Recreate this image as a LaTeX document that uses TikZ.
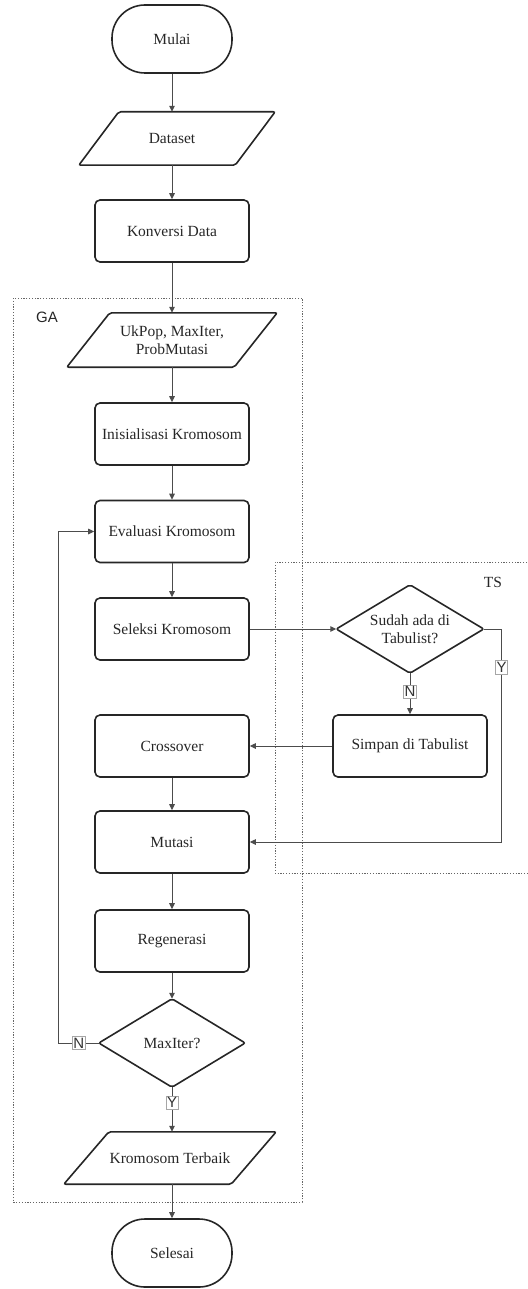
\documentclass[tikz,border=0pt]{standalone}
\usepackage{fontspec}
\setmainfont{Liberation Serif}
\newfontfamily\lsans{Liberation Sans}
\usetikzlibrary{arrows.meta}
\newcommand\pgram[3]{\draw[outl] ([xshift=#2+#3]#1.north west) -- ([xshift=#3]#1.north east) -- ([xshift=-#2+#3]#1.south east) -- ([xshift=#3]#1.south west) -- cycle;}
\newcommand\dmd[1]{\draw[outl] (#1.north) -- (#1.east) -- (#1.south) -- (#1.west) -- cycle;}
\begin{document}
\begin{tikzpicture}[x=1pt,y=-1pt,
 txt/.style={align=center, font=\fontsize{15.5}{18}\selectfont, text=black!85},
 box/.style={txt, draw=black!85, line width=1.6pt, rounded corners=5pt, minimum width=154pt, minimum height=62pt, inner sep=0pt},
 term/.style={box, minimum width=120pt, minimum height=68pt, rounded corners=33pt},
 shp/.style={txt, inner sep=0pt, draw=none},
 outl/.style={draw=black!85, line width=1.6pt, rounded corners=2pt},
 arr/.style={draw=black!70, line width=1pt, -{Triangle[length=6pt,width=5.5pt]}},
 lbl/.style={draw=black!35, fill=white, line width=0.6pt, inner xsep=1pt, inner ysep=1.5pt, font=\lsans\fontsize{15}{15}\selectfont, text=black!80},
 grp/.style={draw=black!60, line width=0.9pt, dash pattern=on 1.2pt off 1.6pt}
]
\useasboundingbox (0,0) rectangle (527,1289);
% group boxes
\draw[grp] (13,298) rectangle (302,1202);
\draw[grp] (527,562) -- (275,562) -- (275,873) -- (527,873);
\node[font=\lsans\fontsize{15}{15}\selectfont, text=black!85] (ga) at (47,317) {GA};
\node[txt] (ts) at (493,582) {TS};

% nodes
\node[term] (mulai) at (172,39) {Mulai};
\node[shp, minimum width=196pt, minimum height=53pt] (data) at (172,138.5) {Dataset};
\node[box] (konv) at (172,231) {Konversi Data};
\node[shp, minimum width=210pt, minimum height=54pt] (param) at (172,340) {UkPop, MaxIter,\\ProbMutasi};
\node[box] (init) at (172,434) {Inisialisasi Kromosom};
\node[box] (eval) at (172,531.5) {Evaluasi Kromosom};
\node[box] (sel) at (172,629) {Seleksi Kromosom};
\node[box] (cross) at (172,746) {Crossover};
\node[box] (mut) at (172,842) {Mutasi};
\node[box] (regen) at (172,941) {Regenerasi};
\node[shp, minimum width=146pt, minimum height=88pt] (maxit) at (172,1043) {MaxIter?};
\node[shp, minimum width=212pt, minimum height=52pt] (best) at (170,1158) {Kromosom Terbaik};
\node[term] (selesai) at (172,1253) {Selesai};
\node[shp, minimum width=147pt, minimum height=88pt] (sudah) at (410,629) {Sudah ada di\\Tabulist?};
\node[box] (simpan) at (410,746) {Simpan di Tabulist};

% shapes
\pgram{data}{40}{5}
\pgram{param}{43}{0}
\pgram{best}{45}{0}
\dmd{maxit}
\dmd{sudah}

% connectors
\draw[arr] (mulai) -- (data);
\draw[arr] (data) -- (konv);
\draw[arr] (konv) -- (param);
\draw[arr] (param) -- (init);
\draw[arr] (init) -- (eval);
\draw[arr] (eval) -- (sel);
\draw[arr] (sel) -- (sudah);
\draw[arr] (sudah) -- node[lbl, pos=0.45]{N} (simpan);
\draw[arr] (sudah.east) -- ++(18,0) |- node[lbl, pos=0.09]{Y} (mut.east);
\draw[arr] (simpan) -- (cross);
\draw[arr] (cross) -- (mut);
\draw[arr] (mut) -- (regen);
\draw[arr] (regen) -- (maxit);
\draw[arr] (maxit.west) -- node[lbl]{N} ++(-40,0) |- (eval.west);
\draw[arr] (maxit.south) -- node[lbl, pos=0.35]{Y} (maxit.south |- best.north);
\draw[arr] (best.south -| selesai.north) -- (selesai);
\end{tikzpicture}
\end{document}
